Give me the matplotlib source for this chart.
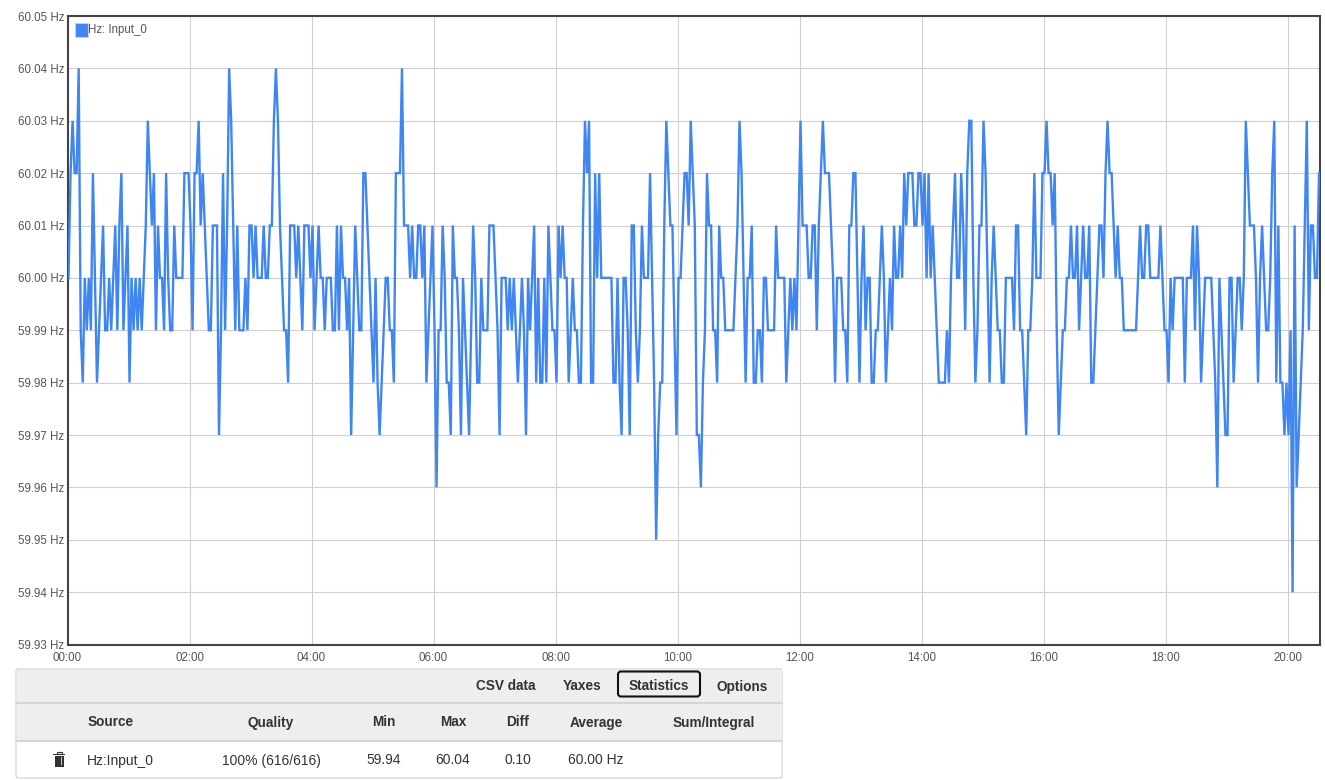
import matplotlib
matplotlib.use("Agg")
import matplotlib.pyplot as plt
from matplotlib.patches import Rectangle, FancyBboxPatch
import numpy as np

plt.rcParams['font.family'] = ['Liberation Sans', 'DejaVu Sans']

# one sample every 2 minutes in 0.01 Hz steps around 60 Hz
offset_centihz = [
    0, 2, 3, 2, 2, 4, -1, -2, 0, -1,
    0, -1, 2, 0, -2, -1, 0, 1, -1, -1,
    0, -1, 0, 1, -1, 1, 2, -1, 0, 1,
    -2, 0, -1, 0, -1, 0, -1, 0, 1, 3,
    2, 1, 2, -1, 1, 0, 0, -1, 2, 0,
    -1, -1, 1, 0, 0, 0, 0, 2, 2, 2,
    1, -1, 2, 2, 3, 1, 2, 1, 0, -1,
    -1, 1, 1, 1, -3, -1, 2, -1, 1, 4,
    3, 1, -1, 1, -1, -1, -1, 0, -1, 1,
    1, 0, 1, 0, 0, 0, 1, 0, 0, 1,
    1, 3, 4, 3, 1, 0, -1, -1, -2, 1,
    1, 1, 0, 1, 0, -1, 1, 1, 1, 0,
    1, -1, 0, 1, 0, 0, -1, 0, 0, 0,
    -1, -1, 1, -1, 1, 0, 0, -1, 0, -3,
    -1, 1, 0, -1, -1, 2, 2, 1, 0, -1,
    -2, 0, -2, -3, -2, -1, 0, 0, -1, -1,
    -2, 2, 2, 2, 4, 1, 1, 1, 0, 1,
    0, 0, 1, 1, 0, 1, -2, -1, 0, 1,
    -1, -4, -1, -1, 1, 0, -2, -2, -3, 1,
    0, 0, -1, -3, 0, -1, -2, -3, -1, 1,
    0, -2, -2, 0, -1, -1, -1, 1, 1, 1,
    0, -1, -3, 0, 0, 0, -1, 0, -1, 0,
    -1, -2, -1, 0, -1, -3, 0, -1, 0, 1,
    -2, 0, -2, -2, 0, -2, 1, 0, -1, -1,
    -2, 1, 0, 1, 0, 0, -2, -1, 0, -1,
    -1, -2, -2, 1, 3, 2, 3, -2, -2, 2,
    0, 2, 0, 0, 0, 0, 0, 0, -2, -2,
    0, -2, -3, 0, 0, -1, -3, 1, 1, -1,
    -2, -1, 1, 0, 0, 0, 2, 0, -2, -5,
    -3, -2, -2, 1, 3, 2, 1, 1, -1, -3,
    0, 0, 1, 2, 2, 1, 3, 2, 1, -3,
    -3, -4, -2, -1, 2, 1, 1, -1, -1, -2,
    1, 0, 0, -1, -1, -1, -1, -1, 0, 1,
    3, 2, 0, -2, 0, 0, 1, -2, -2, -1,
    -1, -2, 0, 0, -1, -1, -1, -1, 1, 0,
    0, 0, 0, -2, -1, 0, -1, 0, -1, 1,
    3, 1, 1, 1, 0, 0, 1, 1, -1, 1,
    2, 3, 2, 2, 2, 1, 0, -2, 0, 0,
    0, -1, -1, -2, 1, 1, 2, 2, 0, -2,
    0, 1, -1, 0, 0, -2, -2, -1, -1, 0,
    1, 0, -2, -1, 0, -1, 1, 0, 0, 1,
    0, 2, 1, 2, 2, 2, 1, 1, 2, 2,
    1, 2, 0, 2, 0, 1, 0, -1, -2, -2,
    -2, -2, -1, -2, 0, 1, 2, 0, 0, 2,
    1, -1, 2, 3, 3, 0, -2, -1, 1, 1,
    3, 2, 0, -2, 0, 1, 0, -1, -1, -2,
    -2, 0, 0, 0, 0, -1, 1, 1, -1, -1,
    -2, -3, -1, -1, 0, 2, 0, 0, 0, 2,
    2, 3, 2, 2, 1, 2, -1, -3, -2, -1,
    -1, 0, 0, 1, 0, 0, 1, -1, 0, 1,
    0, 0, 1, -2, -2, -1, 0, 1, 1, 0,
    2, 3, 2, 2, 1, 0, 1, 0, 0, -1,
    -1, -1, -1, -1, -1, -1, 0, 1, 0, 0,
    1, 1, 0, 0, 0, 0, 0, 1, 0, -1,
    -1, -2, 0, -1, 0, 0, 0, 0, 0, -2,
    0, 0, 0, 1, -1, 1, 0, -2, -1, 0,
    0, 0, 0, -1, -2, -4, 0, -1, -2, -3,
    -3, 0, 0, -2, -1, 0, 0, -1, 0, 3,
    2, 1, 1, 1, 0, -2, 0, 1, 0, -1,
    -1, 0, 2, 3, -2, 1, -2, -2, -3, -2,
    -3, -1, -6, 1, -4, -3, -2, -1, 1, 3,
    -1, 1, 1, 0, 0, 2,
]

y_ticks = [59.93, 59.94, 59.95, 59.96, 59.97, 59.98, 59.99,
           60.00, 60.01, 60.02, 60.03, 60.04, 60.05]
x_tick_hours = [0, 2, 4, 6, 8, 10, 12, 14, 16, 18, 20]

buttons = ["CSV data", "Yaxes", "Statistics", "Options"]
columns = ["Source", "Quality", "Min", "Max", "Diff", "Average", "Sum/Integral"]
row = ["Hz:Input_0", "100% (616/616)", "59.94", "60.04", "0.10", "60.00 Hz"]

minutes = 1 + 2 * np.arange(len(offset_centihz))
hz = 60 + np.array(offset_centihz) / 100

W, H = 1325, 780
BLUE = '#3f86f2'
TICK = '#555555'

fig = plt.figure(figsize=(W / 100, H / 100), dpi=100)
ax = fig.add_axes([67.5 / W, 1 - 644.5 / H, (1320 - 67.5) / W, (644.5 - 16) / H])

ax.plot(minutes, hz, color=BLUE, lw=1.7, solid_joinstyle='miter', zorder=3)

ax.set_xlim(0, 1252.5 / 61 * 60)
ax.set_ylim(59.93, 60.05)
ax.set_yticks(y_ticks)
ax.set_yticklabels([f"{v:.2f} Hz" for v in y_ticks])
ax.set_xticks([h * 60 for h in x_tick_hours])
ax.set_xticklabels([f"{h:02d}:00" for h in x_tick_hours])
ax.tick_params(axis='y', length=0, labelsize=8.3, labelcolor=TICK, pad=2.5)
ax.tick_params(axis='x', length=0, labelsize=8.3, labelcolor=TICK, pad=5.5)
ax.grid(True, color='#cfcfcf', lw=0.8)
ax.set_axisbelow(True)
for s in ax.spines.values():
    s.set_color('#444444')
    s.set_linewidth(1.5)

# overlay in pixel coordinates for the legend and the panel under the chart
ui = fig.add_axes([0, 0, 1, 1], zorder=5)
ui.set_xlim(0, W)
ui.set_ylim(H, 0)
ui.axis('off')

ui.add_patch(Rectangle((74.5, 23), 13, 14, fc=BLUE, ec='#d0d0d0', lw=0.8))
ui.text(88.5, 30.5, "Hz: Input_0", fontsize=8.3, color=TICK, va='center')

ui.add_patch(FancyBboxPatch((16, 669), 766, 109, boxstyle="round,pad=0,rounding_size=2",
                            fc='white', ec='#d0d0d0', lw=0.8))
ui.add_patch(Rectangle((16.5, 669.5), 765, 71, fc='#eeeeee', ec='none'))
ui.plot([16, 782], [702.5, 702.5], color='#d5d5d5', lw=1.4)
ui.plot([16, 782], [740.5, 740.5], color='#d5d5d5', lw=1.4)

ui.add_patch(FancyBboxPatch((618, 671.5), 82, 25, boxstyle="round,pad=0,rounding_size=3",
                            fc='none', ec='#111111', lw=1.5))
for label, x in zip(buttons, [505.5, 582, 659, 742.5]):
    ui.text(x, 686.5, label, fontsize=9.8, fontweight='bold', color='#333333', ha='center', va='center')

for label, x in zip(columns, [110.5, 271, 384, 453, 518, 596, 714]):
    ui.text(x, 722.5, label, fontsize=9.8, fontweight='bold', color='#333333', ha='center', va='center')

ui.text(87, 760.5, row[0], fontsize=10, color='#333333', va='center')
for label, x in zip(row[1:], [271, 384, 453, 518, 596]):
    ui.text(x, 760.5, label, fontsize=10, color='#333333', ha='center', va='center')

# trash can icon
ui.add_patch(Rectangle((53, 753.5), 12, 1.6, fc='#333333', ec='none'))
ui.add_patch(Rectangle((56.5, 751.5), 5, 2, fc='none', ec='#333333', lw=0.8))
ui.add_patch(Rectangle((54.5, 755.5), 9, 11, fc='#333333', ec='none'))
for x in [56.5, 58.6, 60.7]:
    ui.add_patch(Rectangle((x, 757), 0.8, 8, fc='#cccccc', ec='none'))

fig.savefig("out.png", dpi=100)
